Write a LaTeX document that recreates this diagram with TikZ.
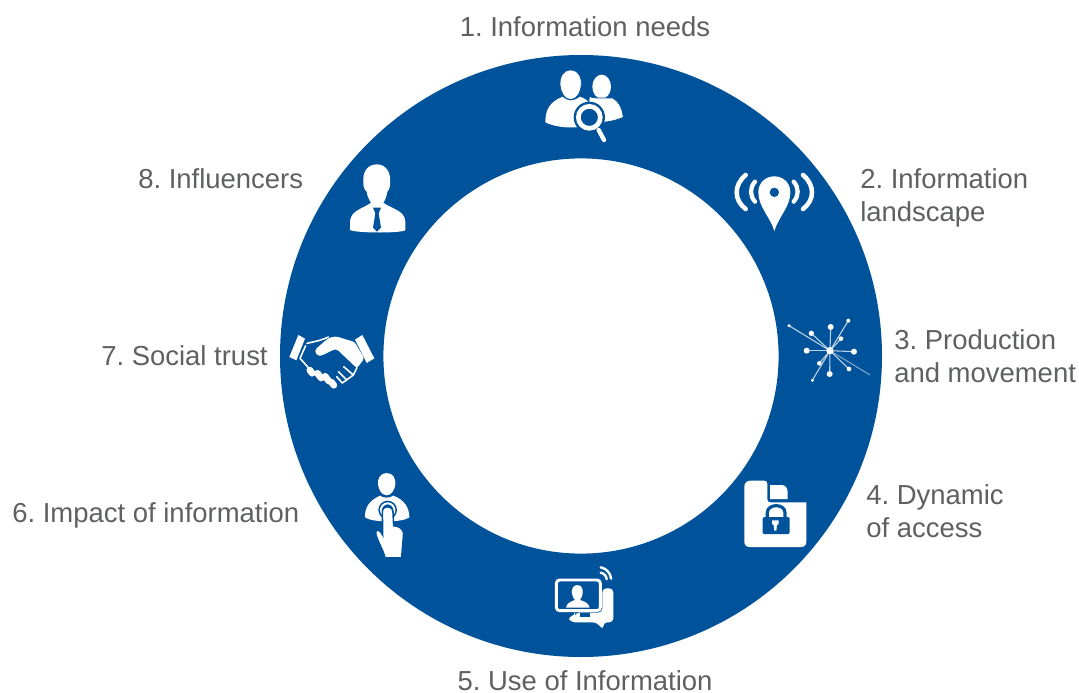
\documentclass[tikz,border=0pt]{standalone}
\usepackage{fontspec}
\setmainfont{Liberation Sans}
\definecolor{ringblue}{HTML}{00539B}
\definecolor{labelgrey}{HTML}{5F6062}
\tikzset{
  lbl/.style={text=labelgrey,align=left,inner sep=0pt,font=\fontsize{20.6}{24.75}\selectfont\frenchspacing},
  iconat/.style 2 args={shift={(#1,#2)},x=.25pt,y=-.25pt},
  wline/.style={draw=white,line cap=round,fill=none},
  cutout/.style={fill=white,draw=ringblue,line width=.6pt}
}
\begin{document}
\begin{tikzpicture}[x=.75pt,y=-.75pt]
\useasboundingbox (0,0) rectangle (1079,693);
\fill[white] (0,0) rectangle (1079,693);
\fill[ringblue,even odd rule] (581,356) circle[radius=225.75pt] (581,356) circle[radius=148.2pt];

\foreach \n/\x/\y/\a/\t in {
  needs/585/27/center/{1. Information needs},
  landscape/860/198/west/{2. Information\\landscape},
  production/894/356/west/{3. Production\\and movement},
  access/866/511/west/{4. Dynamic\\of access},
  use/585/681/center/{5. Use of Information},
  impact/12/515/west/{6. Impact of information},
  trust/101/356/west/{7. Social trust},
  influencers/138/179/west/{8. Influencers}}
  \node[lbl,anchor=\a] (lab\n) at (\x,\y) {\t};

% 1 people and magnifier
\begin{scope}[iconat={530}{60}]
\fill[white] (215,80) ellipse[x radius=28,y radius=36];
\draw[cutout] (178,110) .. controls (205,118) and (235,112) .. (248,114) .. controls (270,126) and (278,150) .. (280,172) .. controls (260,182) and (220,190) .. (170,190) -- cycle;
\fill[white] (46,187) .. controls (46,150) and (58,126) .. (98,110) .. controls (115,125) and (130,125) .. (150,110) .. controls (174,118) and (190,135) .. (196,187) .. controls (160,207) and (90,208) .. (46,187) -- cycle;
\draw[cutout] (122,30) .. controls (148,30) and (156,55) .. (154,75) .. controls (153,95) and (142,118) .. (122,119) .. controls (102,118) and (91,95) .. (90,75) .. controls (88,55) and (96,30) .. (122,30) -- cycle;
\fill[ringblue] (178,172) circle[radius=47];
\draw[white,line width=3.3pt,line cap=round] (206,210) -- (222,240);
\draw[white,line width=3.5pt] (178,172) circle[radius=33];
\end{scope}

% 2 pin with signal
\begin{scope}[iconat={725}{165}]
\fill[white] (148,198) .. controls (135,155) and (100,125) .. (100,82) .. controls (100,50) and (125,34) .. (148,34) .. controls (171,34) and (196,50) .. (196,82) .. controls (196,125) and (161,155) .. (148,198) -- cycle;
\fill[ringblue] (148,82) circle[radius=14];
\foreach \s in {-1,1} {
  \draw[wline,line width=3.2pt] ({148+\s*58},50) .. controls ({148+\s*74},68) and ({148+\s*74},92) .. ({148+\s*58},110);
  \draw[wline,line width=3.4pt] ({148+\s*86},30) .. controls ({148+\s*122},60) and ({148+\s*122},105) .. ({148+\s*86},132);
}
\end{scope}

% 3 star network
\begin{scope}[iconat={780}{310}]
\draw[white!60!ringblue,line width=.6pt] (150,122) -- (270,195);
\foreach \x/\y/\r in {27/47/5,94/70/8,152/51/9,205/32/6,183/86/7,222/125/9,80/122/9,118/160/7,149/192/9,207/177/7,97/211/5} {
  \draw[white!75!ringblue,line width=.8pt] (150,122) -- (\x,\y);
  \fill[white] (\x,\y) circle[radius=\r];
}
\fill[white] (150,122) circle[radius=11];
\end{scope}

% 4 folder with lock
\begin{scope}[iconat={735}{470}]
\fill[white] (28,50) .. controls (28,38) and (36,32) .. (48,32) -- (88,32) .. controls (94,32) and (97,36) .. (97,42) -- (97,88) .. controls (97,94) and (100,97) .. (106,97) -- (214,97) -- (214,215) .. controls (214,225) and (208,231) .. (198,231) -- (44,231) .. controls (34,231) and (28,225) .. (28,215) -- cycle;
\fill[white] (105,45) -- (140,45) .. controls (152,45) and (158,55) .. (158,66) -- (158,87) -- (105,87) -- cycle;
\fill[ringblue,rounded corners=1pt] (83,141) rectangle (164,192);
\draw[ringblue,line width=2.4pt] (97,141) -- (97,128) .. controls (97,100) and (150,100) .. (150,128) -- (150,141);
\fill[white] (111,151) -- (131,151) -- (131,162) -- (126,165) -- (124,182) -- (118,182) -- (116,165) -- (111,162) -- cycle;
\end{scope}

% 5 screen and speech
\begin{scope}[iconat={545}{560}]
\fill[white,rounded corners=3pt] (172,85) -- (205,85) -- (205,187) -- (175,187) -- (175,210) -- (155,187) -- (78,187) -- (68,170) -- (90,168) -- (90,158) -- (172,158) -- cycle;
\fill[ringblue] (105,160) rectangle (135,172);
\draw[white,line width=2.2pt,fill=ringblue,rounded corners=2.5pt] (34,60) rectangle (166,152);
\fill[white] (97,75) .. controls (110,75) and (115,88) .. (113,100) .. controls (111,112) and (106,118) .. (105,120) .. controls (118,124) and (132,130) .. (134,143) -- (63,143) .. controls (65,130) and (78,124) .. (90,120) .. controls (88,118) and (83,112) .. (81,100) .. controls (79,88) and (84,75) .. (97,75) -- cycle;
\draw[wline,line width=1.8pt] (167,38) arc[start angle=-80,end angle=-5,radius=22];
\draw[wline,line width=1.8pt] (167,22) arc[start angle=-80,end angle=-5,radius=38];
\end{scope}

% 6 person pressing
\begin{scope}[iconat={350}{465}]
\fill[white] (110,24) .. controls (130,24) and (138,42) .. (136,58) .. controls (134,75) and (125,90) .. (110,91) .. controls (95,90) and (86,75) .. (84,58) .. controls (82,42) and (90,24) .. (110,24) -- cycle;
\fill[white] (45,157) .. controls (44,130) and (55,108) .. (90,92) .. controls (100,100) and (120,100) .. (130,92) .. controls (165,105) and (178,130) .. (178,157) .. controls (165,165) and (150,167) .. (135,168) -- (88,168) .. controls (75,167) and (58,165) .. (45,157) -- cycle;
\fill[ringblue] (113,135) circle[radius=28];
\draw[white,line width=1.5pt] (113,135) circle[radius=20];
\draw[ringblue,line width=1.2pt,fill=white] (97,140) .. controls (97,120) and (127,120) .. (129,140) -- (131,182) .. controls (145,183) and (160,190) .. (161,205) -- (155,279) -- (105,279) .. controls (100,255) and (80,225) .. (77,205) .. controls (76,192) and (88,190) .. (98,210) -- cycle;
\end{scope}

% 7 handshake
\begin{scope}[iconat={285}{325}]
\fill[white] (40,30) -- (60,41) -- (34,106) -- (13,96) -- cycle;
\fill[white] (232,30) -- (268,100) -- (245,114) -- (210,44) -- cycle;
\fill[white,rounded corners=2pt] (208,50) .. controls (185,45) and (160,34) .. (143,36) .. controls (128,40) and (103,62) .. (88,78) -- (100,94) .. controls (120,88) and (140,76) .. (155,72) -- (216,130) -- (238,100) -- cycle;
\draw[white,line width=1.2pt,line cap=round,line join=round] (66,55) .. controls (85,50) and (105,48) .. (130,36);
\draw[white,line width=1.2pt,line cap=round,line join=round] (62,62) -- (45,100) -- (72,130);
\foreach \x/\y/\l in {78/140/6,103/152/9,126/161/9,143/176/6}
  \draw[white,line width=5pt,line cap=round] ({\x-\l*.6},{\y-\l*.8}) -- ({\x+\l*.6},{\y+\l*.8});
\draw[white,line width=1.2pt,line cap=round,line join=round] (155,155) -- (172,174) -- (205,150) -- (176,125);
\draw[white,line width=1.2pt,line cap=round] (160,140) -- (185,165);
\draw[white,line width=1.2pt,line cap=round] (205,150) -- (216,128);
\end{scope}

% 8 person with tie
\begin{scope}[iconat={340}{155}]
\fill[white] (110,28) .. controls (140,28) and (152,55) .. (150,78) .. controls (152,90) and (148,105) .. (142,110) .. controls (140,125) and (135,135) .. (130,143) .. controls (150,160) and (195,165) .. (196,200) -- (196,225) .. controls (190,235) and (50,235) .. (30,225) -- (30,200) .. controls (32,165) and (72,160) .. (93,143) .. controls (88,135) and (82,125) .. (80,110) .. controls (73,105) and (68,90) .. (70,78) .. controls (68,55) and (80,28) .. (110,28) -- cycle;
\fill[ringblue] (99,158) -- (123,158) -- (116,175) -- (123,218) -- (111,230) -- (99,218) -- (106,175) -- cycle;
\end{scope}
\end{tikzpicture}
\end{document}
